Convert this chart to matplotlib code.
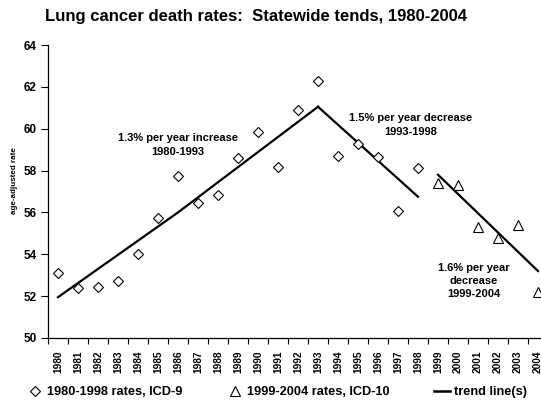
import matplotlib
matplotlib.use("Agg")
import matplotlib.pyplot as plt
from matplotlib.lines import Line2D

plt.rcParams['font.family'] = ['Liberation Sans', 'DejaVu Sans']
plt.rcParams['font.weight'] = 'bold'

# observed rates (age-adjusted, per 100,000)
icd9_years = list(range(1980, 1999))
icd9_rates = [53.1, 52.4, 52.45, 52.7, 54.0, 55.75, 57.75, 56.45, 56.85, 58.6,
              59.85, 58.15, 60.9, 62.3, 58.7, 59.25, 58.65, 56.05, 58.1]
icd10_years = list(range(1999, 2005))
icd10_rates = [57.4, 57.3, 55.3, 54.8, 55.4, 52.2]

# trend segments
trend1_years = [1980, 1986, 1993]
trend1_vals = [51.95, 56.0, 61.05]
trend2_years = [1993, 1998]
trend2_vals = [61.05, 56.75]
trend3_years = [1999, 2004]
trend3_vals = [57.8, 53.2]

all_years = list(range(1980, 2005))

fig = plt.figure(figsize=(5.41, 4.0), dpi=100)
ax = fig.add_axes([48 / 541, 62 / 400, 500 / 541, 293 / 400])

for yrs, vals in [(trend1_years, trend1_vals), (trend2_years, trend2_vals),
                  (trend3_years, trend3_vals)]:
    ax.plot(yrs, vals, color='black', lw=1.6, zorder=2, clip_on=False)

ax.plot(icd9_years, icd9_rates, ls='none', marker='D', ms=5.5, mfc='white',
        mec='black', mew=0.8, zorder=3)
ax.plot(icd10_years, icd10_rates, ls='none', marker='^', ms=7.5, mfc='white',
        mec='black', mew=0.8, zorder=3)

ax.set_xlim(1979.5, 2004.5)
ax.set_ylim(50, 64)
ax.set_yticks(range(50, 65, 2))
ax.set_xticks(all_years)
ax.set_xticklabels([str(y) for y in all_years], rotation=90, fontsize=7.3,
                   fontweight='bold')
ax.set_xticks([y - 0.5 for y in all_years] + [2004.5], minor=True)
ax.tick_params(axis='x', which='major', length=0, pad=9)
ax.tick_params(axis='x', which='minor', length=4, width=0.8, direction='out')
ax.tick_params(axis='y', length=5, width=0.8, labelsize=8.5, pad=3)
for lab in ax.get_yticklabels():
    lab.set_fontweight('bold')

for s in ['top', 'right']:
    ax.spines[s].set_visible(False)
for s in ['left', 'bottom']:
    ax.spines[s].set_linewidth(0.9)

ax.set_ylabel('age-adjusted rate', fontsize=5.8, fontweight='bold')
ax.yaxis.label.set_va('center')
ax.yaxis.set_label_coords(-0.066, 0.536)

ax.text(1986.0, 59.22, '1.3% per year increase\n1980-1993', ha='center',
        va='center', fontsize=8, fontweight='bold', linespacing=1.4)
ax.text(1997.65, 60.18, '1.5% per year decrease\n1993-1998', ha='center',
        va='center', fontsize=8, fontweight='bold', linespacing=1.4)
ax.text(2000.8, 52.72, '1.6% per year\ndecrease\n1999-2004', ha='center',
        va='center', fontsize=8, fontweight='bold', linespacing=1.4)

fig.text(256 / 541, 1 - 17 / 400,
         'Lung cancer death rates:  Statewide tends, 1980-2004',
         ha='center', va='center', fontsize=12, fontweight='bold')

handles = [
    Line2D([], [], ls='none', marker='D', ms=5, mfc='white', mec='black', mew=0.8),
    Line2D([], [], ls='none', marker='^', ms=7, mfc='white', mec='black', mew=0.8),
    Line2D([], [], color='black', lw=1.8),
]
labels = ['1980-1998 rates, ICD-9', '1999-2004 rates, ICD-10', 'trend line(s)']
fig.legend(handles, labels, loc='center left',
           bbox_to_anchor=(27 / 541, 1 - 392 / 400),
           ncol=3, frameon=False, handlelength=1.25,
           handletextpad=0.3, columnspacing=3.5, borderpad=0, borderaxespad=0,
           prop={'weight': 'bold', 'size': 9.2})

fig.savefig('out.png', dpi=100)
